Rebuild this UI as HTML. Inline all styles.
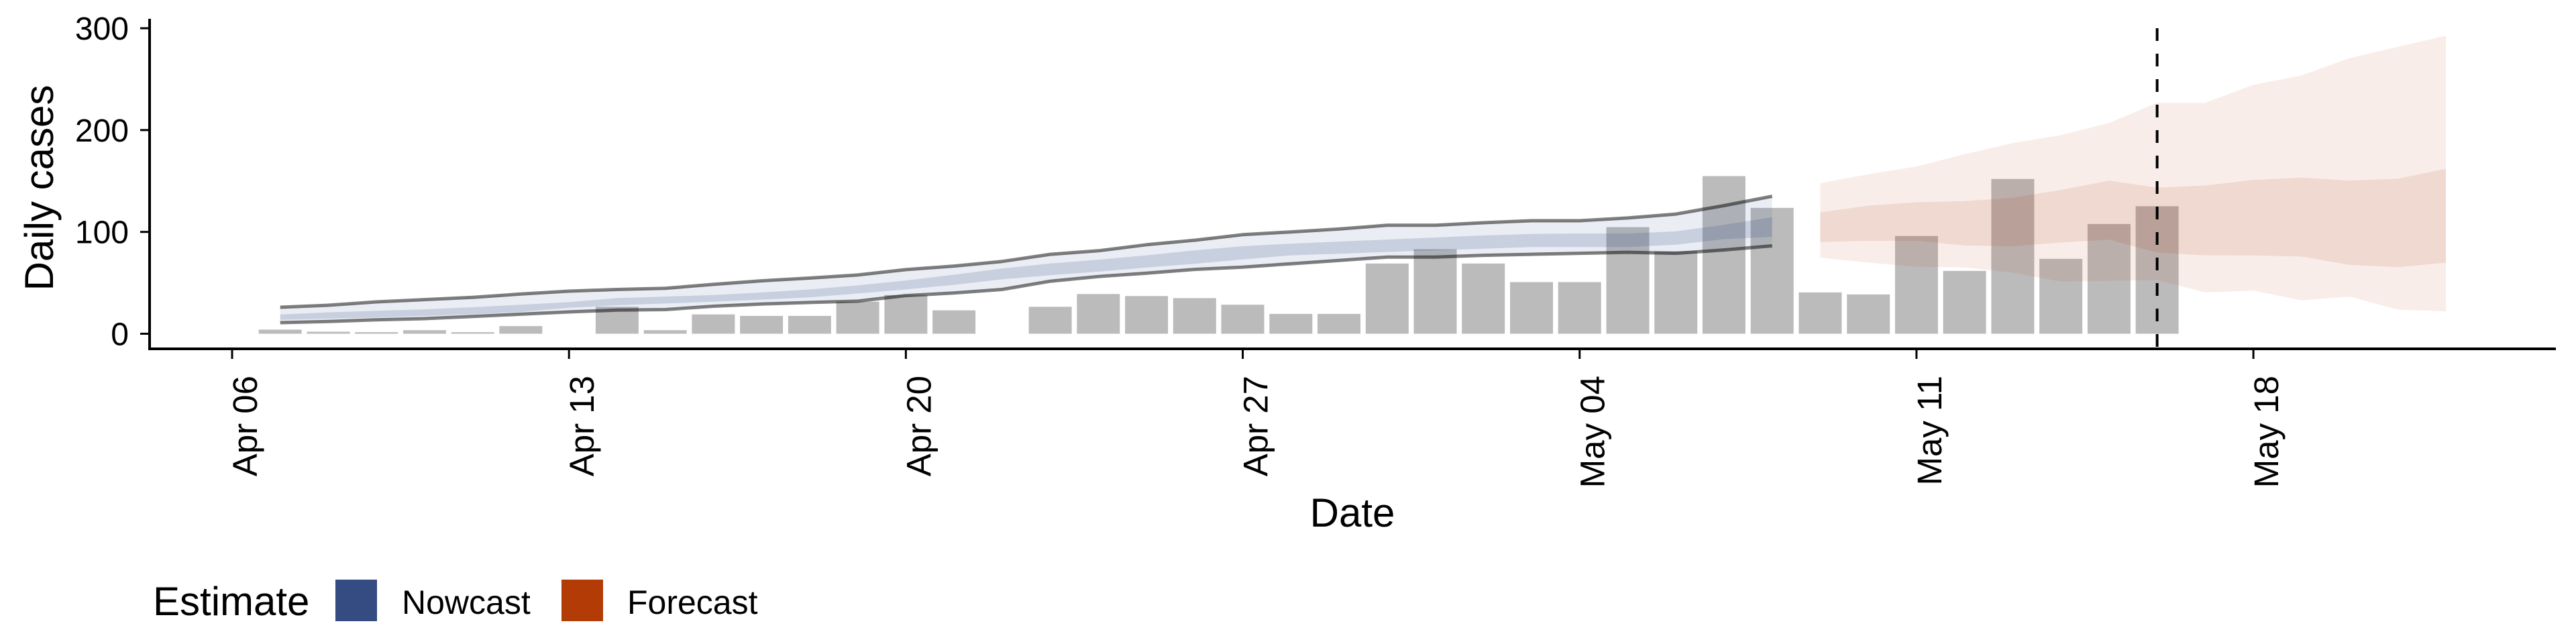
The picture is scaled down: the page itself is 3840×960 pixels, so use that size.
<!DOCTYPE html>
<html>
<head>
<meta charset="utf-8">
<style>
  html, body { margin:0; padding:0; background:#fff; }
  svg { display:block; font-family:"Liberation Sans", sans-serif; }
</style>
</head>
<body>
<svg id="chart" xmlns="http://www.w3.org/2000/svg" width="3840" height="960" viewBox="0 0 3840 960">
  <rect x="0" y="0" width="3840" height="960" fill="#ffffff"/>
  <g id="bars"></g>
  <g id="bands"></g>
  <g id="lines"></g>
  <g id="axes"></g>
  <text x="2016" y="785" font-size="60" text-anchor="middle" fill="#000">Date</text>
  <text transform="translate(79,280) rotate(-90)" font-size="60" text-anchor="middle" fill="#000">Daily cases</text>
  <g>
    <text x="228" y="917" font-size="60" fill="#000">Estimate</text>
    <rect x="500" y="864" width="62" height="62" fill="#354c83"/>
    <text x="599" y="915" font-size="50" fill="#000">Nowcast</text>
    <rect x="837" y="864" width="62" height="62" fill="#b33b06"/>
    <text x="935" y="915" font-size="50" fill="#000">Forecast</text>
  </g>
</svg>
<script>
// ---- data (day offsets from Apr 06) ----
const barStartDay = 1; // Apr 07
const barValues = [4,2,1.5,3.5,1.5,7.5,0,26.5,3.5,19,17.5,17.5,31.5,38,23,0,26.5,39,37,35,28.5,19.5,19.5,69,83,69,50.7,50.7,104.7,81,154.8,123.6,40.6,38.6,96,61.7,152,73.6,107.8,125.2];

const nowStartDay = 1; // Apr 07 .. May 08
const nowUpper = [26,28,31.3,33.5,35.7,39,41.8,43.5,44.6,48.5,52,54.7,57.7,63,66.5,71,78,81.5,87.4,91.8,97.3,100,102.8,106.5,106.5,109,111,111,113.7,117.5,125.8,135];
const nowLower = [10.9,12,13.7,14.8,17,19.2,21.4,23.2,23.7,27,29.2,30.7,32,37.5,40,43.5,51.6,56.2,59.5,63.2,65.4,68.7,72,75.3,75.3,77,78,79,80,79,82.3,86.3];
const nowInnerHi = [19,21,22.5,24,26,28.5,31,35,36.5,38,40.5,43.5,47.5,52.3,58,64,69,72.7,77,81.9,86,88.5,90.5,92.5,94.5,96.5,98,98.4,98.4,100.5,107,114.4];
const nowInnerLo = [13.7,14.8,15.9,17.5,19.2,21.4,25.5,28,29.7,31.4,33.5,35.8,39.5,43.5,48,53.4,57.5,61,65,68.7,73,77,78.6,80.3,81.9,83.5,85.2,85.2,85.2,87.4,92.9,95.1];

const fcStartDay = 33; // May 09 .. May 22
const fcOuterHi = [147.8,156.6,164.3,176.3,187.3,195,207,226.8,226.8,244.4,253.6,270.7,281.7,292.7];
const fcInnerHi = [119.2,125.8,129.1,130.2,133.5,141.2,150.4,143.4,145.6,151,153.3,150.4,152.2,162];
const fcInnerLo = [90,91.3,91.3,86.7,85.9,89.6,92.4,79.7,77,76.9,75.8,67.6,65.4,69.8];
const fcOuterLo = [74.7,69.8,65.9,65,60,51.2,52,52.7,40.6,42.4,32.9,36.5,23.7,22];

const xTickDays = [0,7,14,21,28,35,42];
const xTickLabels = ["Apr 06","Apr 13","Apr 20","Apr 27","May 04","May 11","May 18"];
const yTickValues = [0,100,200,300];
const forecastDateDay = 40; // May 16

// ---- scales ----
const X0 = 346, DAY = 71.74;
const Y0 = 497.5, UNIT = 1.518;
function xs(d){ return X0 + DAY*d; }
function ys(v){ return Y0 - UNIT*v; }
const NS = "http://www.w3.org/2000/svg";
function mk(tag, attrs, parent){
  const e = document.createElementNS(NS, tag);
  for (const k in attrs) e.setAttribute(k, attrs[k]);
  parent.appendChild(e);
  return e;
}

// bars
const gBars = document.getElementById('bars');
barValues.forEach((v,i)=>{
  const d = barStartDay + i;
  const h = v*UNIT;
  const r = mk('rect', {x:(xs(d)-32).toFixed(1), y:ys(v).toFixed(1), width:64, height:h.toFixed(1), fill:'#bbbbbb'}, gBars);
  
  
});

function band(start, hi, lo, fill, name){
  let p = '';
  hi.forEach((v,i)=>{ p += (i?'L':'M') + xs(start+i).toFixed(1) + ' ' + ys(v).toFixed(1) + ' '; });
  for (let i=lo.length-1;i>=0;i--) p += 'L' + xs(start+i).toFixed(1) + ' ' + ys(lo[i]).toFixed(1) + ' ';
  const e = mk('path', {d:p+'Z', fill:fill}, document.getElementById('bands'));
  
  
}
band(nowStartDay, nowUpper, nowLower, 'rgba(51,79,140,0.10)', 'nowcast-outer-band');
band(nowStartDay, nowInnerHi, nowInnerLo, 'rgba(51,79,140,0.19)', 'nowcast-inner-band');
band(fcStartDay, fcOuterHi, fcOuterLo, 'rgba(181,58,11,0.09)', 'forecast-outer-band');
band(fcStartDay, fcInnerHi, fcInnerLo, 'rgba(181,58,11,0.11)', 'forecast-inner-band');

function line(start, vals, name){
  const pts = vals.map((v,i)=> xs(start+i).toFixed(1)+','+ys(v).toFixed(1)).join(' ');
  const e = mk('polyline', {points:pts, fill:'none', stroke:'rgba(0,0,0,0.5)', 'stroke-width':5, 'stroke-linejoin':'round'}, document.getElementById('lines'));
  
  
}
line(nowStartDay, nowUpper, 'nowcast-upper-line');
line(nowStartDay, nowLower, 'nowcast-lower-line');

// axes
const gAx = document.getElementById('axes');
const yAxis = mk('line', {x1:223, y1:28, x2:223, y2:522, stroke:'#000', 'stroke-width':4}, gAx);


const xAxis = mk('line', {x1:221, y1:520, x2:3810, y2:520, stroke:'#000', 'stroke-width':4}, gAx);



yTickValues.forEach(v=>{
  const t = mk('line', {x1:209, y1:ys(v), x2:223, y2:ys(v), stroke:'#000', 'stroke-width':3}, gAx);
  
  
  const l = mk('text', {x:192, y:(ys(v)+17).toFixed(1), 'font-size':48, 'text-anchor':'end', fill:'#000'}, gAx);
  l.textContent = String(v);
  
  
});

xTickDays.forEach((d,i)=>{
  const X = xs(d);
  const t = mk('line', {x1:X, y1:520, x2:X, y2:535, stroke:'#000', 'stroke-width':3}, gAx);
  
  
  const l = mk('text', {transform:'translate('+(X+37).toFixed(1)+',560) rotate(-90)', 'font-size':51, 'text-anchor':'end', fill:'#000'}, gAx);
  l.textContent = xTickLabels[i];
  
  
});

const dash = mk('line', {x1:xs(forecastDateDay), y1:42, x2:xs(forecastDateDay), y2:520, stroke:'#000', 'stroke-width':4, 'stroke-dasharray':'19 19'}, gAx);


</script>
</body>
</html>
